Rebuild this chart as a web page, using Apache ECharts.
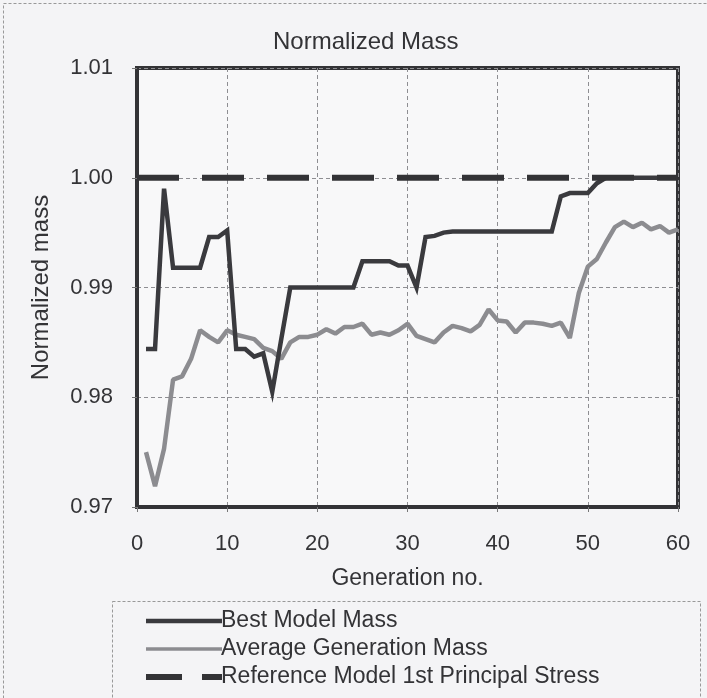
<!DOCTYPE html>
<html>
<head>
<meta charset="utf-8">
<script src="https://cdn.jsdelivr.net/npm/echarts@6/dist/echarts.min.js"></script>
<style>
  html, body { margin: 0; padding: 0; background: #f4f4f6; }
  #box { width: 707px; height: 698px; }
</style>
</head>
<body>
<div id="box"></div>
<script>
// generation numbers 1..60
var generations = [];
for (var g = 1; g <= 60; g++) generations.push(g);

// best model mass per generation
var bestMass = [
    0.9844, 0.9844, 0.9990, 0.9918, 0.9918, 0.9918, 0.9918, 0.9946, 0.9946, 0.9952,
    0.9844, 0.9844, 0.9837, 0.9840, 0.9805, 0.9853, 0.9900, 0.9900, 0.9900, 0.9900,
    0.9900, 0.9900, 0.9900, 0.9900, 0.9924, 0.9924, 0.9924, 0.9924, 0.9920, 0.9920,
    0.9900, 0.9946, 0.9947, 0.9950, 0.9951, 0.9951, 0.9951, 0.9951, 0.9951, 0.9951,
    0.9951, 0.9951, 0.9951, 0.9951, 0.9951, 0.9951, 0.9983, 0.9986, 0.9986, 0.9986,
    0.9995, 1.0000, 1.0000, 1.0000, 1.0000, 1.0000, 1.0000, 1.0000, 1.0000, 1.0000
];

// average mass of each generation
var avgMass = [
    0.9750, 0.9719, 0.9753, 0.9816, 0.9819, 0.9835, 0.9861, 0.9855, 0.9850, 0.9861,
    0.9857, 0.9855, 0.9853, 0.9845, 0.9842, 0.9835, 0.9850, 0.9855, 0.9855, 0.9857,
    0.9862, 0.9858, 0.9864, 0.9864, 0.9867, 0.9857, 0.9859, 0.9857, 0.9861, 0.9867,
    0.9856, 0.9853, 0.9850, 0.9859, 0.9865, 0.9863, 0.9860, 0.9866, 0.9880, 0.9870,
    0.9869, 0.9859, 0.9868, 0.9868, 0.9867, 0.9865, 0.9868, 0.9854, 0.9895, 0.9919,
    0.9926, 0.9941, 0.9955, 0.9960, 0.9955, 0.9959, 0.9953, 0.9956, 0.9950, 0.9953
];

// reference model (1st principal stress), normalised to 1
var refGen = [0, 60];
var refMass = [1.0, 1.0];

var xTicks = [0, 10, 20, 30, 40, 50, 60];
var yTicks = [0.97, 0.98, 0.99, 1.00, 1.01];

function pairs(xs, ys) {
    var list = [];
    for (var i = 0; i < xs.length; i++) {
        list.push([xs[i], ys[i]]);
    }
    return list;
}

var font = 'Liberation Sans, Arial, sans-serif';
var ink = '#333336';

var myChart = echarts.init(document.getElementById('box'));
var option = {
    backgroundColor: '#f4f4f6',
    animation: false,
    textStyle: { fontFamily: font },
    title: {
        text: 'Normalized Mass',
        left: 268,
        top: 25,
        textStyle: { fontFamily: font, fontSize: 24, fontWeight: 'normal', color: ink }
    },
    grid: {
        left: 137,
        right: 29,
        top: 68,
        bottom: 191,
        show: true,
        borderColor: ink,
        borderWidth: 4,
        backgroundColor: 'rgba(255,255,255,0.35)'
    },
    legend: {
        orient: 'vertical',
        left: 143,
        top: 608,
        padding: 0,
        itemWidth: 76,
        itemHeight: 14,
        itemGap: 2,
        itemStyle: { opacity: 0 },
        textStyle: { fontFamily: font, fontSize: 23, lineHeight: 26, color: ink, padding: [0, 0, 0, -6] },
        data: [
            { name: 'Best Model Mass', lineStyle: { width: 4.5 } },
            { name: 'Average Generation Mass', lineStyle: { width: 3.5 } },
            { name: 'Reference Model 1st Principal Stress', lineStyle: { width: 6, type: [36, 20] } }
        ]
    },
    xAxis: {
        type: 'value',
        min: xTicks[0],
        max: xTicks[xTicks.length - 1],
        interval: 10,
        name: 'Generation no.',
        nameLocation: 'middle',
        nameGap: 60,
        nameTextStyle: { fontFamily: font, fontSize: 23, color: ink },
        axisLine: { show: true, lineStyle: { color: ink, width: 4 } },
        axisTick: { show: true, length: 5, lineStyle: { color: '#777', width: 1 } },
        axisLabel: { fontFamily: font, fontSize: 22, color: ink, margin: 26 },
        splitLine: { show: true, lineStyle: { color: '#8e8e92', width: 1, type: [4, 3] } }
    },
    yAxis: {
        type: 'value',
        min: yTicks[0],
        max: yTicks[yTicks.length - 1],
        interval: 0.01,
        name: 'Normalized mass',
        nameLocation: 'middle',
        nameGap: 84,
        nameTextStyle: { fontFamily: font, fontSize: 24, color: ink },
        axisLine: { show: true, lineStyle: { color: ink, width: 4 } },
        axisTick: { show: true, length: 5, lineStyle: { color: '#777', width: 1 } },
        axisLabel: {
            fontFamily: font, fontSize: 22, color: ink, margin: 24,
            formatter: function (v) { return v.toFixed(2); }
        },
        splitLine: { show: true, lineStyle: { color: '#8e8e92', width: 1, type: [4, 3] } }
    },
    graphic: [{
        type: 'rect',
        shape: { x: 3.5, y: 3.5, width: 720, height: 720 },
        style: { fill: 'none', stroke: '#999', lineWidth: 1, lineDash: [3, 2] },
        silent: true
    }, {
        type: 'rect',
        shape: { x: 112.5, y: 601.5, width: 588, height: 120 },
        style: { fill: 'none', stroke: '#999', lineWidth: 1, lineDash: [3, 2] },
        silent: true
    }],
    series: [{
        name: 'Best Model Mass',
        type: 'line',
        symbol: 'none',
        z: 4,
        data: pairs(generations, bestMass),
        lineStyle: { color: '#3a3a3e', width: 4.5, join: 'miter' },
        itemStyle: { color: '#3a3a3e' }
    }, {
        name: 'Average Generation Mass',
        type: 'line',
        symbol: 'none',
        z: 3,
        data: pairs(generations, avgMass),
        lineStyle: { color: '#8c8c90', width: 4.5 },
        itemStyle: { color: '#8c8c90' }
    }, {
        name: 'Reference Model 1st Principal Stress',
        type: 'line',
        symbol: 'none',
        z: 5,
        data: pairs(refGen, refMass),
        lineStyle: { color: '#333336', width: 6, type: [42, 23] },
        itemStyle: { color: '#333336' }
    }]
};
myChart.setOption(option);
</script>
</body>
</html>
